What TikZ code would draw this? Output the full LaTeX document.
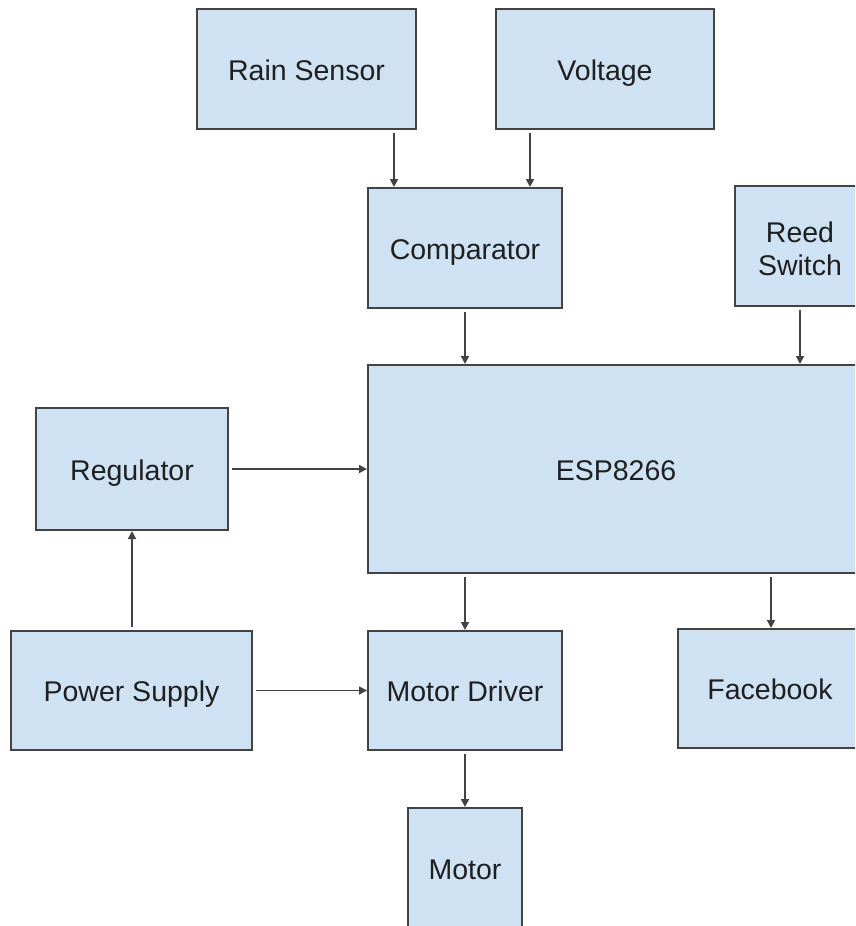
\documentclass[tikz,border=0pt]{standalone}
\usepackage{fontspec}
\setmainfont{Liberation Sans}
\usetikzlibrary{arrows.meta}
\definecolor{boxfill}{HTML}{CFE2F3}
\definecolor{boxline}{HTML}{434343}
\definecolor{txt}{HTML}{1F1F1F}
\begin{document}
\begin{tikzpicture}[x=1pt,y=-1pt,
  blk/.style={draw=boxline,fill=boxfill,line width=2pt,inner sep=0pt,
    text=txt,font=\fontsize{28.5}{33}\selectfont,align=center,
    text height=24pt,text depth=2pt},
  arr/.style={draw=boxline,line width=1.7pt,-{Triangle[length=8pt,width=8pt]},shorten <=3pt}]
\useasboundingbox (0,0) rectangle (855,926);
\clip (0,0) rectangle (855,926);
\node[blk,minimum width=219pt,minimum height=120pt] (rain) at (306.5,69) {Rain Sensor};
\node[blk,minimum width=218pt,minimum height=120pt] (volt) at (605,69) {Voltage};
\node[blk,minimum width=194pt,minimum height=120pt] (comp) at (465,248) {Comparator};
\node[blk,minimum width=130pt,minimum height=120pt,text height=65pt,text depth=6pt] (reed) at (800,246) {Reed\\Switch};
\node[blk,minimum width=496pt,minimum height=208pt] (esp) at (616,469) {ESP8266};
\node[blk,minimum width=192pt,minimum height=122pt] (reg) at (132,469) {Regulator};
\node[blk,minimum width=241pt,minimum height=119pt] (psu) at (131.5,690.5) {Power Supply};
\node[blk,minimum width=194pt,minimum height=119pt] (drv) at (465,690.5) {Motor Driver};
\node[blk,minimum width=184pt,minimum height=119pt] (fb) at (770,688.5) {Facebook};
\node[blk,minimum width=114pt,minimum height=120pt] (motor) at (465,868) {Motor};
\coordinate (xa) at (394,0);
\coordinate (xb) at (530,0);
\coordinate (xc) at (465,0);
\coordinate (xd) at (800,0);
\coordinate (xe) at (771,0);
\coordinate (xf) at (132,0);
\draw[arr] (rain.south -| xa) -- (comp.north -| xa);
\draw[arr] (volt.south -| xb) -- (comp.north -| xb);
\draw[arr] (comp.south -| xc) -- (esp.north -| xc);
\draw[arr] (reed.south -| xd) -- (esp.north -| xd);
\draw[arr] (reg.east) -- (esp.west |- reg.east);
\draw[arr] (psu.north -| xf) -- (reg.south -| xf);
\draw[arr] (psu.east) -- (drv.west);
\draw[arr] (esp.south -| xc) -- (drv.north -| xc);
\draw[arr] (esp.south -| xe) -- (fb.north -| xe);
\draw[arr] (drv.south -| xc) -- (motor.north -| xc);
\end{tikzpicture}
\end{document}
